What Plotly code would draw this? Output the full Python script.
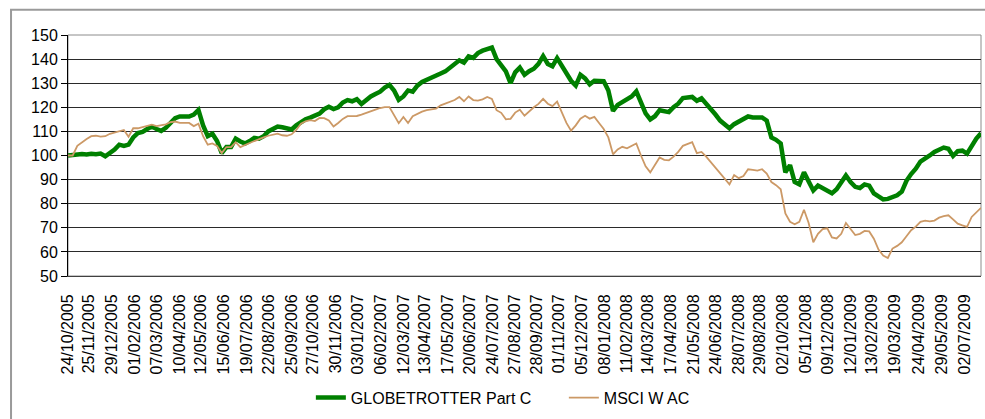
import pandas as pd
import plotly.graph_objects as go

# Weekly sample dates (Mondays) from 24/10/2005
week_start = "2005-10-24"
n_weeks = 197

globetrotter = [
    100, 100.3, 100.5, 100.6, 100.4, 100.7, 100.5, 100.8, 99.7, 101,
    102.5, 104.5, 104, 104.5, 107.5, 109.3, 109.8, 111, 112, 111,
    110.2, 111.5, 113.4, 115.5, 116.2, 116, 116.2, 117, 118.9, 112.5,
    108, 109, 106, 101, 103.5, 103.5, 107, 105.8, 105, 106,
    107.3, 107, 108, 110, 110.8, 112, 111.7, 111.4, 110.8, 112.5,
    114, 115, 115.7, 116.4, 117.4, 119.2, 120.2, 119.3, 120, 122,
    123, 122.5, 123.4, 121.4, 123, 124.5, 125.5, 126.5, 128.2, 129.3,
    127, 123.1, 124.5, 127, 126.5, 129, 130.5, 131.5, 132.1, 133,
    134, 134.9, 136.3, 138, 139.5, 138.5, 141.1, 140.5, 142.5, 143.5,
    144.3, 144.8, 140, 137.6, 134.9, 130, 134.5, 136.5, 133.5, 135,
    136, 138, 141.2, 138, 137, 140.4, 137, 134.5, 131, 129,
    133.5, 132, 129.5, 131, 131, 130.8, 127, 118.5, 121, 122,
    123, 124.5, 126.6, 122.5, 117.5, 115, 116.3, 118.8, 118.5, 118,
    120, 121.5, 123.8, 124, 124.3, 122.7, 123.7, 121.5, 119.5, 117,
    114.5, 112.8, 111.3, 113, 114.2, 115.5, 116.2, 115.8, 116, 115.8,
    114.5, 107.5, 106.5, 105, 93, 96, 89, 88, 93, 89.5,
    85.5, 87.5, 86.5, 85.5, 84.3, 86, 88.5, 91.7, 89, 87,
    86.5, 88, 87.5, 84.3, 83, 81.8, 82, 82.9, 83.5, 85,
    89.5, 92.3, 94.5, 97.5, 98.5, 100, 101.5, 102.3, 103.3, 102.8,
    99.8, 101.8, 102, 100.8, 104.2, 107, 109.2,
]

msci = [
    100, 100, 104, 105.5, 106.8, 108, 108.2, 107.8, 108, 109,
    109.5, 110.3, 110.6, 107.8, 111.3, 111.3, 111.8, 112.5, 112.8, 112.2,
    112.7, 112.9, 113.8, 114.1, 113.5, 113.5, 113.5, 112.2, 113.2, 108,
    104.5, 105, 104, 101, 103.5, 103.5, 105.5, 103.5, 104.5, 105.2,
    106, 106.6, 107.5, 108.2, 108.7, 109.1, 108.4, 108.2, 108.8, 110.6,
    113.2, 114.2, 114.7, 114.3, 115.6, 115.5, 114.5, 112, 113.5, 115.2,
    116.3, 116.5, 116.4, 117, 117.6, 118.1, 119, 119.7, 120.1, 120.1,
    117, 113.4, 116, 113.5, 116.3, 117.3, 118.2, 118.8, 119.1, 119.4,
    120.8, 121.6, 122.3, 123, 124.3, 122.5, 124.5, 123, 122.8, 123.3,
    124.3, 123.5, 118.8, 117.7, 115, 115.2, 117.8, 119, 116.5, 118.3,
    120, 121.4, 123.5, 121.5, 120.5, 122.4, 118, 113.5, 110.3, 112.5,
    115.3, 116.5, 115.3, 116, 113.5, 111, 107.5, 100.5, 102.5, 103.6,
    103, 104, 105, 100, 95.5, 93, 96, 99.2, 98.2, 98,
    99.5, 101.5, 104, 104.8, 105.5, 101, 101.5, 99.5, 97.2, 95,
    92.5, 90, 88, 91.9, 90.6, 91.5, 94.3, 94, 93.7, 94.3,
    92.5, 89, 87.7, 86, 76, 72.5, 71.5, 72.5, 77.5, 72,
    64, 67.5, 69.5, 69.8, 66, 65.6, 67.5, 72, 69.5, 67,
    67.5, 68.7, 68.5, 65.5, 61, 58.5, 57.5, 61.4, 62.5, 64,
    66.5, 69, 70.5, 72.5, 73, 72.7, 73, 74.2, 74.8, 75.2,
    73.5, 71.7, 71, 70.4, 74.5, 76.5, 78.3,
]

tick_labels = [
    "24/10/2005", "25/11/2005", "29/12/2005", "01/02/2006", "07/03/2006",
    "10/04/2006", "12/05/2006", "15/06/2006", "19/07/2006", "22/08/2006",
    "25/09/2006", "27/10/2006", "30/11/2006", "03/01/2007", "06/02/2007",
    "12/03/2007", "13/04/2007", "17/05/2007", "20/06/2007", "24/07/2007",
    "27/08/2007", "28/09/2007", "01/11/2007", "05/12/2007", "08/01/2008",
    "11/02/2008", "14/03/2008", "17/04/2008", "21/05/2008", "24/06/2008",
    "28/07/2008", "29/08/2008", "02/10/2008", "05/11/2008", "09/12/2008",
    "12/01/2009", "13/02/2009", "19/03/2009", "24/04/2009", "29/05/2009",
    "02/07/2009",
]

series_names = ["GLOBETROTTER Part C", "MSCI W AC"]

dates = pd.date_range(week_start, periods=n_weeks, freq="7D")
tick_vals = pd.to_datetime(tick_labels, format="%d/%m/%Y")

FONT = "Liberation Sans, Arial, sans-serif"

fig = go.Figure()
fig.add_trace(go.Scatter(
    x=dates, y=globetrotter, mode="lines", name=series_names[0],
    line=dict(color="#008000", width=4.5),
))
fig.add_trace(go.Scatter(
    x=dates, y=msci, mode="lines", name=series_names[1],
    line=dict(color="#CC9966", width=1.8),
))

fig.update_layout(
    width=985, height=419,
    margin=dict(l=68, r=4, t=35, b=143, autoexpand=False),
    paper_bgcolor="white", plot_bgcolor="white",
    font=dict(family=FONT, size=16, color="black"),
    showlegend=True,
    legend=dict(
        orientation="h", x=0.266, xanchor="left", y=-0.505, yanchor="middle",
        font=dict(family=FONT, size=16, color="black"),
        entrywidth=208, entrywidthmode="pixels",
        bgcolor="rgba(0,0,0,0)",
    ),
    shapes=[
        dict(type="rect", xref="paper", yref="paper",
             x0=-0.0624, x1=1.03, y0=-0.75, y1=1.105,
             line=dict(color="#9a9a9a", width=2), layer="below"),
        dict(type="rect", xref="paper", yref="paper",
             x0=0, x1=1, y0=0, y1=1,
             line=dict(color="#8c8c8c", width=1), layer="below"),
    ],
)

fig.update_xaxes(
    type="date", automargin=False,
    range=[dates[0], dates[-1]],
    tickmode="array", tickvals=tick_vals, ticktext=tick_labels,
    tickangle=-90, tickfont=dict(family=FONT, size=16, color="black"),
    showgrid=False, zeroline=False,
    showline=True, linecolor="#404040", linewidth=1,
    ticks="", ticklabelstandoff=11,
)
fig.update_yaxes(
    automargin=False,
    range=[50, 150], tickmode="linear", tick0=50, dtick=10,
    tickfont=dict(family=FONT, size=16, color="black"),
    showgrid=True, gridcolor="#2a2a2a", gridwidth=1,
    zeroline=False,
    showline=True, linecolor="black", linewidth=1,
    ticks="outside", ticklen=6, tickcolor="black",
)

fig.write_html(
    "out.html",
    config={"displayModeBar": False},
    post_script="document.body.style.margin='0px';document.body.style.overflow='hidden';",
)
